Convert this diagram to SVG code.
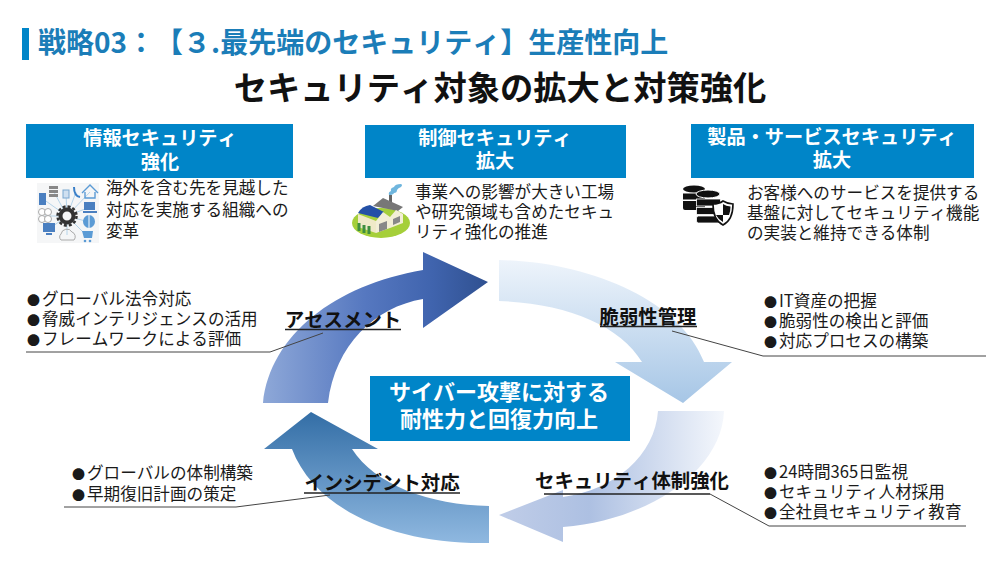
<svg xmlns="http://www.w3.org/2000/svg" width="1000" height="562" viewBox="0 0 1000 562">
<style>
text{font-family:"Noto Sans CJK JP","Noto Sans",sans-serif;fill:#1a1a1a;font-kerning:none;text-spacing-trim:space-all}
.h{font-size:19.2px;font-weight:700;fill:#fff;text-anchor:middle}
.b{font-size:16.6px}
.l{font-size:16.6px}
.d{font-size:13px}
.k{font-size:19.4px;font-weight:700;fill:#111;text-anchor:middle}
.box{fill:#0085c8}
.ln{fill:none;stroke:#444;stroke-width:1}
.ul{fill:none;stroke:#222;stroke-width:1.5}
</style>
<defs>
<linearGradient id="g1" x1="263" x2="488" y1="0" y2="0" gradientUnits="userSpaceOnUse"><stop offset="0" stop-color="#8ea8d8"/><stop offset=".45" stop-color="#5678c0"/><stop offset=".75" stop-color="#4064ae"/><stop offset="1" stop-color="#2f5090"/></linearGradient>
<linearGradient id="g2" x1="0" x2="0" y1="260" y2="403" gradientUnits="userSpaceOnUse"><stop offset="0" stop-color="#eef4fb"/><stop offset="1" stop-color="#a6c6e6"/></linearGradient>
<linearGradient id="g3" x1="499" x2="724" y1="0" y2="0" gradientUnits="userSpaceOnUse"><stop offset="0" stop-color="#c0cde8"/><stop offset=".4" stop-color="#adc0e2"/><stop offset="1" stop-color="#f4f7fc"/></linearGradient>
<linearGradient id="g4" x1="0" x2="0" y1="412" y2="543" gradientUnits="userSpaceOnUse"><stop offset="0" stop-color="#336ea6"/><stop offset="1" stop-color="#8fb8e0"/></linearGradient>
</defs>
<rect width="1000" height="562" fill="#fff"/>
<g id="title">
<rect x="22" y="28" width="7" height="32" fill="#0085c8"/>
<text x="38" y="53" font-size="28" font-weight="700" style="fill:#1b7db8">戦略03：【３.最先端のセキュリティ】生産性向上</text>
<text x="500" y="100" font-size="33.3" font-weight="700" text-anchor="middle" style="fill:#111">セキュリティ対象の拡大と対策強化</text>
</g>
<g id="connectors">
<path d="M263 403C270 335 335 285 423 270V252L488 282L423 328V299C375 307 335 345 328 403Z" fill="url(#g1)"/>
<path d="M499 260C590 262 680 300 704 362H732L683 403L615 362H642C620 325 565 303 499 301Z" fill="url(#g2)"/>
<path d="M658 411H724C722 470 650 520 563 527V542L499 515L563 490V497C615 490 655 455 658 411Z" fill="url(#g3)"/>
<path d="M489 506V543C395 545 315 510 292 449H264L311 412L378 449H352C375 485 430 505 489 506Z" fill="url(#g4)"/>
<path class="ln" d="M26 352H270L323 333"/>
<path class="ln" d="M672 331L763 356H986"/>
<path class="ln" d="M64 507H236L330 495"/>
<path class="ln" d="M710 494L769 526H966"/>
</g>
<g id="node-info">
<rect class="box" x="26" y="124" width="267" height="54"/>
<text class="h" x="160" y="145">情報セキュリティ</text><text class="h" x="160" y="169">強化</text>
<g id="icon-info">
<rect x="37" y="183" width="62" height="60" fill="#f5f6f7"/>
<g stroke="#b5d4ea" stroke-width="1"><path d="M67 216L43 199M67 216L54 192M67 216L66 194M67 216L76 192M67 216L90 192M67 216L90 207M67 216L89 222M67 216L87 236M67 216L49 229M67 216L45 216M67 216L67 235"/></g>
<circle cx="67" cy="216" r="6.500" fill="#f5f6f7" stroke="#333" stroke-width="4"/>
<circle cx="67" cy="216" r="9.500" fill="none" stroke="#333" stroke-width="2.500" stroke-dasharray="3 2"/>
<rect x="39" y="193" width="7" height="12" fill="#4a7fc0"/>
<path d="M49 186h9v3h-9zM49 190h9v3h-9zM49 194h9v3h-9z" fill="#888"/>
<rect x="63" y="190" width="6" height="8" fill="#cfe0f0" stroke="#7aa7d0"/>
<path d="M74 187q0 9 6 10" fill="none" stroke="#3a7fc8" stroke-width="2"/>
<path d="M82 193l8-8 8 8M85 192v6h10v-6" fill="none" stroke="#5b9bd5" stroke-width="1.400"/>
<path d="M84 202h11v8H84zM83 211h14v2H83z" fill="#4a7fc0"/>
<ellipse cx="89" cy="221.500" rx="6" ry="6.500" fill="#5b9bd5"/><path d="M89 215v13" stroke="#fff"/>
<path d="M82 231h11l-1 7h-8z" fill="#5b9bd5"/><circle cx="85" cy="241" r="1.300" fill="#5b9bd5"/><circle cx="90" cy="241" r="1.300" fill="#5b9bd5"/>
<path d="M43 223h12v9H43zM46 233h6v2h-6z" fill="#4a7fc0"/>
<circle cx="42" cy="212" r="3.500" fill="#fff" stroke="#aaa"/><circle cx="48" cy="212" r="3.500" fill="#fff" stroke="#aaa"/><circle cx="42" cy="219" r="3.500" fill="#fff" stroke="#aaa"/><circle cx="48" cy="219" r="3.500" fill="#fff" stroke="#aaa"/>
<path d="M61 240a4 4 0 0 1 0-6a6 6 0 0 1 11-2a5 5 0 0 1 2 8z" fill="none" stroke="#aaa"/>
</g>
<text class="b" x="106" y="194">海外を含む先を見越した</text><text class="b" x="106" y="216">対応を実施する組織への</text><text class="b" x="106" y="237">変革</text>
</g>
<g id="node-control">
<rect class="box" x="365" y="125" width="261" height="53"/>
<text class="h" x="495" y="145">制御セキュリティ</text><text class="h" x="495" y="168">拡大</text>
<g id="icon-factory">
<ellipse cx="381" cy="223" rx="29" ry="15" fill="#a5cf3a"/>
<rect x="389" y="195" width="3" height="9" fill="#666"/>
<path d="M389 195q-1-3 2-4q-1-3 3-4q1-3 7-3q2 1 0 3q-3 1-4 3q0 3-3 3q-1 2-5 2z" fill="#6fb6de"/>
<path d="M373 206l10-8 20 9-5 4z" fill="#777"/>
<path d="M358 213q4-7 12-8l14 7-6 6z" fill="#2450a6"/>
<path d="M358 214l18 7v12l-18-6z" fill="#efe9c8"/>
<path d="M376 221l7-9 7 5v11l-14 5z" fill="#f2eed6"/>
<path d="M390 217l6-7 7 4v9l-13 5z" fill="#f2eed6"/>
<path d="M379 224l8-3v8l-8 3zM393 219l7-3v6l-7 3z" fill="#888"/>
<path d="M359 223v8M364 225v8M369 226v8" stroke="#3f8f3f" stroke-width="3"/>
</g>
<text class="b" x="415" y="198">事業への影響が大きい工場</text><text class="b" x="415" y="218">や研究領域も含めたセキュ</text><text class="b" x="415" y="238">リティ強化の推進</text>
</g>
<g id="node-product">
<rect class="box" x="691" y="124" width="283" height="54"/>
<text class="h" x="832" y="144">製品・サービスセキュリティ</text><text class="h" x="832" y="167">拡大</text>
<g id="icon-db" fill="#111">
<ellipse cx="694" cy="189" rx="11" ry="3.500"/><rect x="683" y="193.500" width="22" height="6"/><rect x="683" y="201" width="22" height="6"/>
<rect x="683" y="204" width="22" height="6" rx="2"/>
<ellipse cx="708" cy="194" rx="12" ry="4" stroke="#fff"/><rect x="696.500" y="199" width="24" height="7" stroke="#fff" stroke-width=".8"/><rect x="696.500" y="207.500" width="24" height="7" stroke="#fff" stroke-width=".8"/><rect x="696.500" y="216" width="24" height="7" rx="2" stroke="#fff" stroke-width=".8"/>
<path d="M723 201q5 3 10 3q0 16-10 21q-10-5-10-21q6 0 10-3z" fill="#fff" stroke="#111" stroke-width="1.600"/>
<path d="M723 204q3 2 7.500 2.500q0 5-1.500 8.500h-6zM723 215v7q-5-3-7-7z"/>
</g>
<text class="b" x="747" y="199">お客様へのサービスを提供する</text><text class="b" x="747" y="219">基盤に対してセキュリティ機能</text><text class="b" x="747" y="239">の実装と維持できる体制</text>
</g>
<g id="node-center">
<rect class="box" x="370" y="376" width="260" height="65"/>
<text x="499" y="400" font-size="22" font-weight="700" text-anchor="middle" style="fill:#fff">サイバー攻撃に対する</text>
<text x="499" y="427" font-size="22" font-weight="700" text-anchor="middle" style="fill:#fff">耐性力と回復力向上</text>
</g>
<g id="node-assessment">
<text class="k" x="343" y="327">アセスメント</text><path class="ul" d="M285 329.500H401"/>
<text class="l" x="27" y="305"><tspan class="d">●</tspan><tspan x="42">グローバル法令対応</tspan></text><text class="l" x="27" y="325"><tspan class="d">●</tspan><tspan x="42">脅威インテリジェンスの活用</tspan></text><text class="l" x="27" y="345"><tspan class="d">●</tspan><tspan x="42">フレームワークによる評価</tspan></text>
</g>
<g id="node-vuln">
<text class="k" x="648" y="324">脆弱性管理</text><path class="ul" d="M600 326.500H697"/>
<text class="l" x="764" y="307"><tspan class="d">●</tspan><tspan x="779">IT資産の把握</tspan></text><text class="l" x="764" y="327"><tspan class="d">●</tspan><tspan x="779">脆弱性の検出と評価</tspan></text><text class="l" x="764" y="347"><tspan class="d">●</tspan><tspan x="779">対応プロセスの構築</tspan></text>
</g>
<g id="node-system">
<text class="k" x="632" y="488">セキュリティ体制強化</text><path class="ul" d="M544 494H710"/>
<text class="l" x="764" y="478"><tspan class="d">●</tspan><tspan x="779">24時間365日監視</tspan></text><text class="l" x="764" y="498"><tspan class="d">●</tspan><tspan x="779">セキュリティ人材採用</tspan></text><text class="l" x="764" y="518"><tspan class="d">●</tspan><tspan x="779">全社員セキュリティ教育</tspan></text>
</g>
<g id="node-incident">
<text class="k" x="382" y="490">インシデント対応</text><path class="ul" d="M304 493H460"/>
<text class="l" x="72" y="479"><tspan class="d">●</tspan><tspan x="87">グローバルの体制構築</tspan></text><text class="l" x="72" y="500"><tspan class="d">●</tspan><tspan x="87">早期復旧計画の策定</tspan></text>
</g>
</svg>
